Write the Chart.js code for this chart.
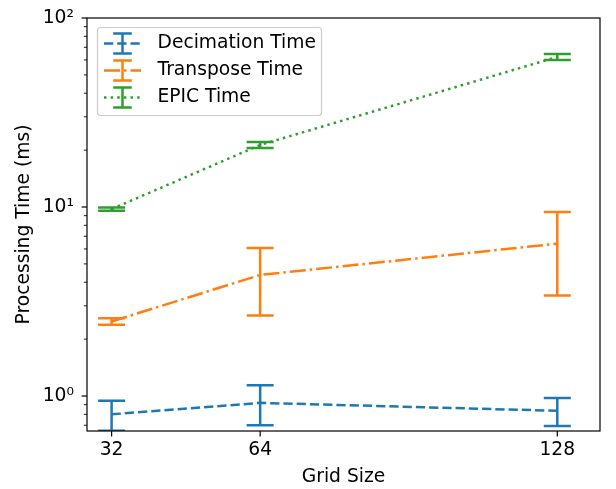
<!DOCTYPE html>
<html>
<head>
<meta charset="utf-8">
<script src="https://cdn.jsdelivr.net/npm/chart.js@4.4.1/dist/chart.umd.min.js"></script>
<style>
  html, body { margin: 0; padding: 0; background: #fff; }
</style>
</head>
<body>
<canvas id="chart" width="616" height="489"></canvas>
<script>
// grid sizes and mean processing times (ms) with their standard deviations
const gridSizes = [32, 64, 128];
const decimationTime = [0.80, 0.92, 0.835];
const decimationErr = [0.145, 0.22, 0.14];
const transposeTime = [2.48, 4.37, 6.40];
const transposeErr = [0.10, 1.70, 3.00];
const epicTime = [9.75, 21.3, 62.2];
const epicErr = [0.20, 0.80, 2.30];

const xTicks = [32, 64, 128];
const yMajorTicks = [1, 10, 100];
const yMinorTicks = [0.7, 0.8, 0.9, 2, 3, 4, 5, 6, 7, 8, 9, 20, 30, 40, 50, 60, 70, 80, 90];
const yTickLabels = { 1: '10\u2070', 10: '10\u00b9', 100: '10\u00b2' };

const LW = 2.5;             // data / error bar line width
const FONT = { family: 'DejaVu Sans', size: 18.7 };

const series = [
  { label: 'Decimation Time', values: decimationTime, errors: decimationErr, color: '#1f77b4',
    dash: [3.7 * LW, 1.6 * LW] },
  { label: 'Transpose Time', values: transposeTime, errors: transposeErr, color: '#ff7f0e',
    dash: [6.4 * LW, 1.6 * LW, 1 * LW, 1.6 * LW] },
  { label: 'EPIC Time', values: epicTime, errors: epicErr, color: '#2ca02c',
    dash: [1 * LW, 1.65 * LW] }
];

const datasets = series.map(s => ({
  label: s.label,
  data: gridSizes.map((g, i) => ({ x: g, y: s.values[i] })),
  errors: s.errors,
  borderColor: s.color,
  backgroundColor: s.color,
  borderWidth: LW,
  borderDash: s.dash,
  borderCapStyle: 'butt',
  pointRadius: 0,
  tension: 0,
  fill: false
}));

const CAP = 13.5;

function drawErrorBar(ctx, px, top, bot, half) {
  ctx.beginPath();
  ctx.moveTo(px, top); ctx.lineTo(px, bot);
  ctx.moveTo(px - half, top); ctx.lineTo(px + half, top);
  ctx.moveTo(px - half, bot); ctx.lineTo(px + half, bot);
  ctx.stroke();
}

const errorBars = {
  id: 'errorBars',
  afterDatasetsDraw(chart) {
    const { ctx, chartArea: a, scales: { x, y } } = chart;
    ctx.save();
    ctx.beginPath();
    ctx.rect(a.left, a.top, a.right - a.left, a.bottom - a.top);
    ctx.clip();
    ctx.setLineDash([]);
    ctx.lineWidth = LW;
    chart.data.datasets.forEach(ds => {
      ctx.strokeStyle = ds.borderColor;
      ds.data.forEach((p, i) => {
        const px = x.getPixelForValue(p.x);
        const top = y.getPixelForValue(p.y + ds.errors[i]);
        const bot = y.getPixelForValue(p.y - ds.errors[i]);
        drawErrorBar(ctx, px, top, bot, CAP);
      });
    });
    ctx.restore();
  }
};

// frame, tick marks and legend box
const frame = {
  id: 'frame',
  afterDraw(chart) {
    const { ctx, chartArea: a, scales: { x, y } } = chart;
    ctx.save();
    ctx.strokeStyle = '#000';
    ctx.setLineDash([]);

    // y ticks (major + minor)
    y.ticks.forEach(t => {
      const py = y.getPixelForValue(t.value);
      const major = yMajorTicks.includes(t.value);
      ctx.lineWidth = major ? 1.2 : 0.9;
      ctx.beginPath();
      ctx.moveTo(a.left, py);
      ctx.lineTo(a.left - (major ? 5.4 : 3.1), py);
      ctx.stroke();
    });
    // x ticks
    ctx.lineWidth = 1.2;
    x.ticks.forEach(t => {
      const px = x.getPixelForValue(t.value);
      ctx.beginPath();
      ctx.moveTo(px, a.bottom);
      ctx.lineTo(px, a.bottom + 5.4);
      ctx.stroke();
    });
    // spines
    ctx.lineWidth = 1.2;
    ctx.strokeRect(a.left, a.top, a.right - a.left, a.bottom - a.top);

    // legend
    const lx = 97.5, ly = 27.5, lw = 224, lh = 88, r = 3;
    ctx.beginPath();
    ctx.roundRect(lx, ly, lw, lh, r);
    ctx.fillStyle = 'rgba(255,255,255,0.8)';
    ctx.fill();
    ctx.strokeStyle = '#cccccc';
    ctx.lineWidth = 1.2;
    ctx.stroke();

    ctx.font = `${FONT.size}px ${FONT.family}`;
    ctx.textBaseline = 'middle';
    ctx.textAlign = 'left';
    series.forEach((s, i) => {
      const cy = 43.5 + i * 27;
      const h0 = 104, h1 = 141, hc = (h0 + h1) / 2;
      ctx.strokeStyle = s.color;
      ctx.lineWidth = LW;
      ctx.lineCap = 'butt';
      ctx.setLineDash(s.dash);
      ctx.beginPath();
      ctx.moveTo(h0, cy); ctx.lineTo(h1, cy);
      ctx.stroke();
      ctx.setLineDash([]);
      drawErrorBar(ctx, hc, cy - 10, cy + 10, 9.3);
      ctx.fillStyle = '#000';
      ctx.fillText(s.label, 157.5, cy);
    });
    ctx.restore();
  }
};

// fixed axis boxes: no extra padding from label overflow
function fixBox(s, size) {
  if (s.isHorizontal()) s.height = size; else s.width = size;
  s.paddingTop = s.paddingBottom = s.paddingLeft = s.paddingRight = 0;
}

new Chart(document.getElementById('chart'), {
  type: 'line',
  data: { datasets },
  options: {
    responsive: false,
    animation: false,
    devicePixelRatio: 1,
    layout: { padding: { top: 18, right: 16, left: 0, bottom: 0 } },
    plugins: { legend: { display: false }, tooltip: { enabled: false } },
    scales: {
      x: {
        type: 'linear',
        min: 26.7,
        max: 137.2,
        afterBuildTicks: s => { s.ticks = xTicks.map(v => ({ value: v })); },
        afterFit: s => fixBox(s, 58),
        grid: { display: false, drawTicks: false },
        border: { display: false },
        ticks: {
          autoSkip: false, maxRotation: 0, padding: 8,
          color: '#000', font: FONT,
          callback: v => String(v)
        },
        title: {
          display: true, text: 'Grid Size', color: '#000', font: FONT,
          padding: { top: 0, bottom: 1 }
        }
      },
      y: {
        type: 'logarithmic',
        min: 0.653,
        max: 100,
        afterBuildTicks: s => {
          s.ticks = [...yMinorTicks, ...yMajorTicks].sort((a, b) => a - b).map(v => ({ value: v }));
        },
        afterFit: s => fixBox(s, 87),
        grid: { display: false, drawTicks: false },
        border: { display: false },
        ticks: {
          autoSkip: false, padding: 13,
          color: '#000', font: FONT,
          callback: v => yTickLabels[v] || ''
        },
        title: {
          display: true, text: 'Processing Time (ms)', color: '#000', font: FONT,
          padding: { top: 13, bottom: 0 }
        }
      }
    }
  },
  plugins: [errorBars, frame]
});
</script>
</body>
</html>
